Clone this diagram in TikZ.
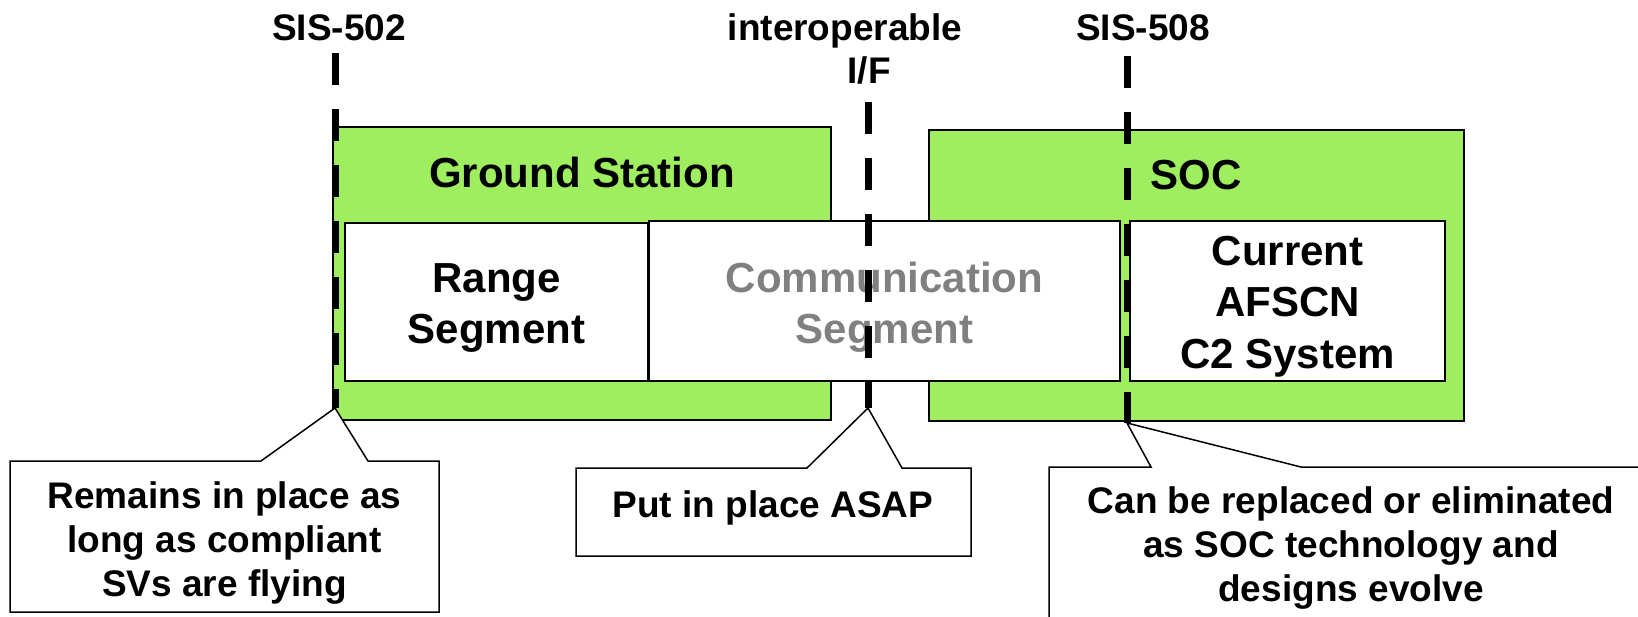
\documentclass[tikz,border=0pt]{standalone}
\usepackage{fontspec}
\setmainfont{Liberation Sans}
\definecolor{boxgreen}{RGB}{159,238,96}
\definecolor{txtgray}{RGB}{128,128,128}
\begin{document}
\begin{tikzpicture}[x=0.5pt,y=-0.5pt,
  gbox/.style={draw=black, line width=1pt, fill=boxgreen, inner sep=0pt},
  wbox/.style={draw=black, line width=1.2pt, fill=white, inner sep=0pt},
  bigtxt/.style={font=\fontsize{21}{25.75}\selectfont\bfseries, inner sep=0pt, align=center},
  smalltxt/.style={font=\fontsize{18.5}{22}\selectfont\bfseries, inner sep=0pt, align=center},
  ifline/.style={line width=3.5pt, dash pattern=on 16pt off 12pt},
  callout/.style={draw=black, line width=0.75pt, fill=white}]
\useasboundingbox (0,0) rectangle (1638,616);
\clip (0,0) rectangle (1638,616);
\fill[white] (0,0) rectangle (1638,616);

% green containers
\node[gbox, minimum width=249pt, minimum height=146.5pt] (gs) at (582,273.5) {};
\node[gbox, minimum width=267.5pt, minimum height=145.5pt] (soc) at (1196.5,275.5) {};
\node[bigtxt, anchor=base] (gstitle) at (582,187) {Ground Station};
\node[bigtxt, anchor=base] (soctitle) at (1196,189) {SOC};

% inner boxes
\node[wbox, minimum width=151.5pt, minimum height=79pt] (range) at (496.5,302) {};
\node[wbox, minimum width=235.5pt, minimum height=80pt] (comm) at (884.5,301) {};
\node[wbox, minimum width=157.5pt, minimum height=80pt] (afscn) at (1287.5,301) {};
\node[bigtxt, anchor=north] (rangetxt) at (496.5,256) {\strut Range\\Segment};
\node[bigtxt, anchor=north, text=txtgray] (commtxt) at (884.5,256) {\strut Communication\\Segment};
\node[bigtxt, anchor=north] (afscntxt) at (1287.5,229) {\strut Current\\AFSCN\\C2 System};

% top labels
\node[smalltxt, anchor=base] (l502) at (339,40) {SIS-502};
\node[smalltxt, anchor=base] (lifa) at (845,40) {interoperable};
\node[smalltxt, anchor=base] (lifb) at (869,83) {I/F};
\node[smalltxt, anchor=base] (l508) at (1143,40) {SIS-508};

% interface lines
\coordinate (t502) at (335,53);
\coordinate (b502) at (335,408);
\coordinate (tif) at (868,102);
\coordinate (bif) at (868,408);
\coordinate (t508) at (1127,56);
\coordinate (b508) at (1127,423);
\draw[ifline] (t502) -- (b502);
\draw[ifline] (tif) -- (bif);
\draw[ifline] (t508) -- (b508);

% callouts
\draw[callout] (10,612) -- (10,461) -- (261,461) -- (b502) -- (368,461) -- (439,461) -- (439,612) -- cycle;
\node[smalltxt, anchor=north] (c1txt) at (224.5,477.2) {\strut Remains in place as\\long as compliant\\SVs are flying};

\draw[callout] (576,468) -- (807,468) -- (bif) -- (902,468) -- (971,468) -- (971,556) -- (576,556) -- cycle;
\node[smalltxt, anchor=base] (c2txt) at (773,517) {Put in place ASAP};

\draw[callout] (1049,650) -- (1049,467) -- (1151,467) -- (b508) -- (1301,467) -- (1670,467) -- (1670,650) -- cycle;
\node[smalltxt, anchor=north] (c3txt) at (1351,482.2) {\strut Can be replaced or eliminated\\as SOC technology and\\designs evolve};
\end{tikzpicture}
\end{document}
